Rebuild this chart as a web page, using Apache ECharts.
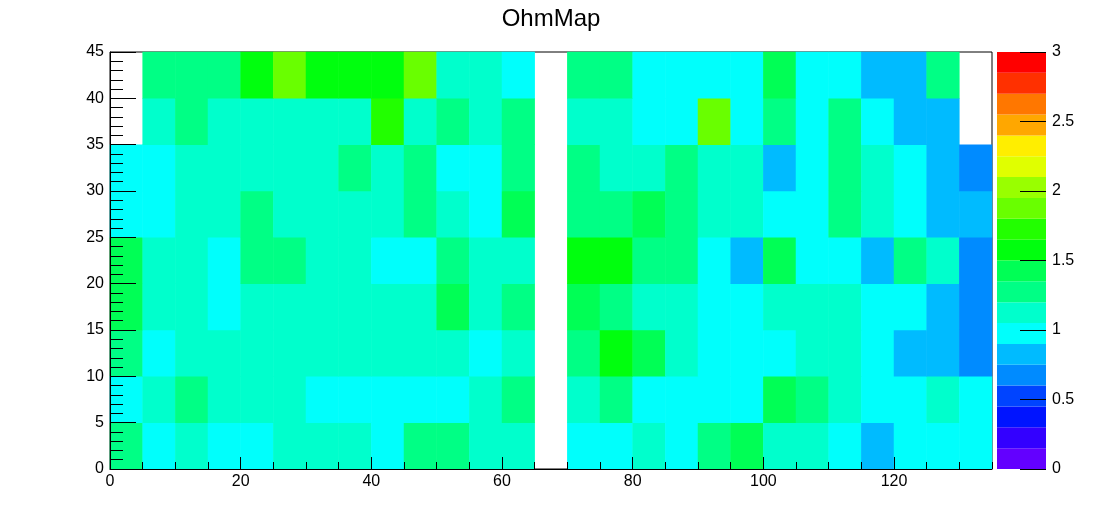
<!DOCTYPE html>
<html>
<head>
<meta charset="utf-8">
<script src="https://cdn.jsdelivr.net/npm/echarts@6/dist/echarts.min.js"></script>
<style>
html,body{margin:0;padding:0;background:#ffffff;}
#chart{width:1102px;height:522px;}
</style>
</head>
<body>
<div id="chart"></div>
<script>
// ---------- data ----------
const titleText = 'OhmMap';
// lower edges of the x bins (width 5) and y bins (width 5)
const xBins = [0,5,10,15,20,25,30,35,40,45,50,55,60,65,70,75,80,85,90,95,100,105,110,115,120,125,130];
const yBins = [0,5,10,15,20,25,30,35,40];
// cell values, one array per y bin (bottom to top); null = empty cell
const row0 = [1.28,0.98,1.12,0.97,1.00,1.14,1.11,1.13,0.99,1.27,1.30,1.12,1.15,null,0.96,1.01,1.13,0.98,1.26,1.42,1.14,1.11,0.99,0.83,1.00,0.97,0.98];
const row1 = [0.99,1.13,1.29,1.12,1.10,1.14,0.98,1.00,0.97,1.01,0.99,1.15,1.28,null,1.12,1.30,0.98,1.00,0.96,1.01,1.44,1.31,1.13,0.99,0.98,1.12,1.00];
const row2 = [1.27,0.98,1.11,1.13,1.12,1.14,1.10,1.13,1.15,1.12,1.11,1.00,1.16,null,1.29,1.57,1.43,1.14,0.99,1.01,0.97,1.12,1.13,0.98,0.84,0.82,0.69];
const row3 = [1.41,1.12,1.14,0.99,1.13,1.10,1.12,1.15,1.11,1.13,1.43,1.12,1.27,null,1.45,1.29,1.14,1.12,0.98,1.00,1.13,1.11,1.15,0.97,1.01,0.83,0.70];
const row4 = [1.42,1.13,1.11,0.98,1.28,1.26,1.12,1.14,1.00,0.97,1.29,1.13,1.12,null,1.58,1.60,1.27,1.30,0.99,0.84,1.41,0.98,1.01,0.82,1.28,1.14,0.68];
const row5 = [0.98,1.00,1.12,1.14,1.27,1.11,1.13,1.12,1.15,1.29,1.13,0.99,1.44,null,1.28,1.31,1.42,1.27,1.12,1.14,0.99,0.97,1.30,1.13,1.00,0.83,0.85];
const row6 = [0.99,0.97,1.13,1.11,1.14,1.12,1.13,1.28,1.12,1.27,0.98,1.00,1.30,null,1.29,1.13,1.11,1.28,1.14,1.12,0.84,0.99,1.27,1.13,0.98,0.82,0.70];
const row7 = [null,1.13,1.29,1.12,1.14,1.11,1.13,1.12,1.72,1.14,1.27,1.12,1.30,null,1.13,1.11,0.98,1.00,1.88,0.97,1.28,0.99,1.26,1.01,0.84,0.83,null];
const row8 = [null,1.28,1.30,1.27,1.59,1.87,1.57,1.60,1.58,1.89,1.13,1.12,0.99,null,1.29,1.27,0.98,1.00,0.97,1.01,1.43,0.99,0.98,0.83,0.85,1.28,null];
const rows = [row0,row1,row2,row3,row4,row5,row6,row7,row8];
// axis ranges
const xRange = [0, 135];
const yRange = [0, 45];
const zRange = [0, 3];
const nContours = 20;

// ---------- style ----------
const palette = ['#6300ff','#3300ff','#0014ff','#0044ff','#008bff','#00bbff','#00fffc','#00ffcc','#00ff85','#00ff55',
                 '#00ff0e','#22ff00','#69ff00','#99ff00','#e0ff00','#ffee00','#ffa700','#ff7700','#ff3000','#ff0000'];
const FONT = '"Liberation Sans", Arial, Helvetica, sans-serif';

const heatData = [];
rows.forEach((row, yi) => row.forEach((v, xi) => { if (v !== null) heatData.push([xi, yi, v]); }));

const step = (zRange[1] - zRange[0]) / nContours;
const pieces = palette.map((c, k) => ({ gte: zRange[0] + k * step - (k === 0 ? 1e-9 : 0), lt: zRange[0] + (k + 1) * step, color: c }));

const black = '#000000';
const labelStyle = { color: black, fontSize: 16, fontFamily: FONT };

const paletteSeries = palette.map((c) => ({
  type: 'bar', xAxisIndex: 3, yAxisIndex: 2, stack: 'pal', barWidth: '100%',
  data: [step], itemStyle: { color: c }, silent: true, animation: false
}));

const chart = echarts.init(document.getElementById('chart'), null, { renderer: 'canvas' });
chart.setOption({
  backgroundColor: '#ffffff',
  animation: false,
  title: {
    text: titleText, left: 'center', top: 2,
    textStyle: { fontSize: 24, fontWeight: 'normal', color: black, fontFamily: FONT }
  },
  grid: [
    { left: 110, top: 52, width: 882, height: 417, show: true, borderColor: black, borderWidth: 1,
      backgroundColor: 'transparent', containLabel: false, outerBoundsMode: 'none' },
    { left: 997, top: 52, width: 49, height: 417, show: false, containLabel: false, outerBoundsMode: 'none' }
  ],
  xAxis: [
    { type: 'category', gridIndex: 0, data: xBins, show: false, position: 'top' },
    { type: 'value', gridIndex: 0, min: xRange[0], max: xRange[1], interval: 20, position: 'bottom', z: 5,
      axisLine: { show: true, lineStyle: { color: black, width: 1 } },
      axisTick: { show: true, inside: true, length: 12, lineStyle: { color: black, width: 1 } },
      axisLabel: Object.assign({ margin: 5, showMaxLabel: false, showMinLabel: true }, labelStyle),
      splitLine: { show: false } },
    { type: 'value', gridIndex: 0, min: xRange[0], max: xRange[1], interval: 5, position: 'bottom', z: 5,
      axisLine: { show: false },
      axisTick: { show: true, inside: true, length: 7, lineStyle: { color: black, width: 1 } },
      axisLabel: { show: false }, splitLine: { show: false } },
    { type: 'category', gridIndex: 1, data: ['z'], show: false }
  ],
  yAxis: [
    { type: 'category', gridIndex: 0, data: yBins, show: false, position: 'right' },
    { type: 'value', gridIndex: 0, min: yRange[0], max: yRange[1], interval: 5, position: 'left', z: 5,
      axisLine: { show: true, lineStyle: { color: black, width: 1 } },
      axisTick: { show: true, inside: true, length: 26, lineStyle: { color: black, width: 1 } },
      minorTick: { show: true, splitNumber: 5, length: 13, lineStyle: { color: black, width: 1 } },
      axisLabel: Object.assign({ margin: 6, padding: [7, 0, 0, 0] }, labelStyle),
      splitLine: { show: false }, minorSplitLine: { show: false } },
    { type: 'value', gridIndex: 1, min: zRange[0], max: zRange[1], interval: 0.5, position: 'right', z: 5,
      axisLine: { show: false },
      axisTick: { show: true, inside: true, length: 26, lineStyle: { color: black, width: 1 } },
      axisLabel: Object.assign({ margin: 6, padding: [7, 0, 0, 0] }, labelStyle),
      splitLine: { show: false } }
  ],
  visualMap: {
    type: 'piecewise', show: false, seriesIndex: 0, dimension: 2, pieces: pieces
  },
  series: [
    { type: 'heatmap', xAxisIndex: 0, yAxisIndex: 0, data: heatData, silent: true, progressive: 0,
      itemStyle: { borderWidth: 0 } }
  ].concat(paletteSeries)
});
</script>
</body>
</html>
